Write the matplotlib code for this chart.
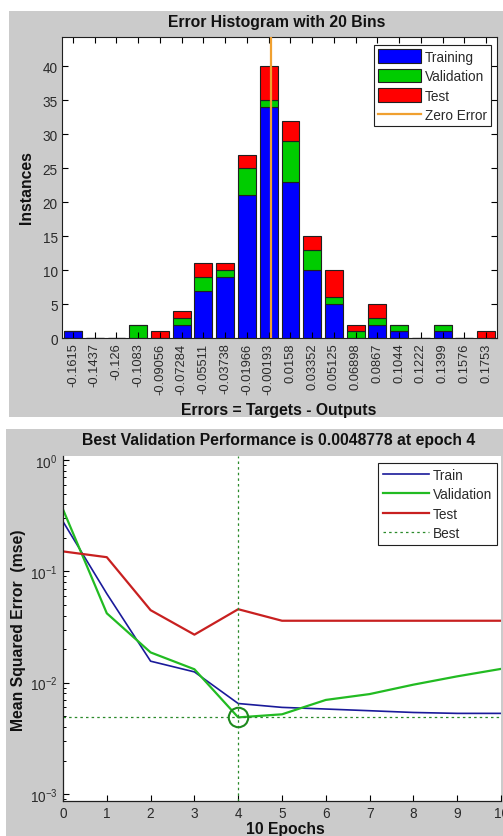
import matplotlib
matplotlib.use("Agg")
import matplotlib.pyplot as plt
import numpy as np
from matplotlib.patches import Rectangle

plt.rcParams['font.family'] = ['Liberation Sans', 'DejaVu Sans']

# ---------------- data ----------------
bin_labels = ["-0.1615", "-0.1437", "-0.126", "-0.1083", "-0.09056", "-0.07284",
              "-0.05511", "-0.03738", "-0.01966", "-0.00193", "0.0158", "0.03352",
              "0.05125", "0.06898", "0.0867", "0.1044", "0.1222", "0.1399",
              "0.1576", "0.1753"]
bin_centers = [float(s) for s in bin_labels]
training = [1, 0, 0, 0, 0, 2, 7, 9, 21, 34, 23, 10, 5, 0, 2, 1, 0, 1, 0, 0]
validation = [0, 0, 0, 2, 0, 1, 2, 1, 4, 1, 6, 3, 1, 1, 1, 1, 0, 1, 0, 0]
test = [0, 0, 0, 0, 1, 1, 2, 1, 2, 5, 3, 2, 4, 1, 2, 0, 0, 0, 0, 1]

epochs = [0, 1, 2, 3, 4, 5, 6, 7, 8, 9, 10]
train_perf = [0.28, 0.063, 0.0156, 0.0125, 0.0065, 0.0060, 0.0058, 0.0056, 0.0054, 0.0053, 0.0053]
val_perf = [0.36, 0.042, 0.0187, 0.0132, 0.0048778, 0.0052, 0.0070, 0.0079, 0.0096, 0.0114, 0.0133]
test_perf = [0.151, 0.134, 0.0448, 0.027, 0.0457, 0.036, 0.036, 0.036, 0.036, 0.036, 0.036]
best_epoch = 4
best_val = 0.0048778

# ---------------- figure ----------------
W, H = 503, 837
fig = plt.figure(figsize=(W / 100, H / 100), dpi=100)
fig.patch.set_facecolor('white')
gray = '#cbcbcb'

def px_rect(x0, y0, x1, y1):
    return [x0 / W, 1 - y1 / H, (x1 - x0) / W, (y1 - y0) / H]

# gray panels (background axes)
bg = fig.add_axes([0, 0, 1, 1], zorder=-10)
bg.set_xlim(0, W)
bg.set_ylim(H, 0)
bg.axis('off')
for (x0, y0, x1, y1) in [(9, 12, 503, 418), (6, 430, 503, 837)]:
    bg.add_patch(Rectangle((x0, y0), x1 - x0, y1 - y0, facecolor=gray, edgecolor='none'))

txt_col = '#2a2a2a'
xtick_fs = 9.3
ytick_fs = 9.8
leg_fs = 9.8
title_fs = 11.3

# ---------------- histogram ----------------
ax1 = fig.add_axes(px_rect(62, 38, 497, 339.3))
bw = (bin_centers[-1] - bin_centers[0]) / 19
x = np.array(bin_centers)
tr = np.array(training)
va = np.array(validation)
te = np.array(test)
h_tr = ax1.bar(x, tr, width=0.82 * bw, color='#0000ff', edgecolor='#202020', linewidth=0.8, label='Training')
h_va = ax1.bar(x, va, width=0.82 * bw, bottom=tr, color='#00cc00', edgecolor='#202020', linewidth=0.8, label='Validation')
h_te = ax1.bar(x, te, width=0.82 * bw, bottom=tr + va, color='#ff0000', edgecolor='#202020', linewidth=0.8, label='Test')
h_z, = ax1.plot([0, 0], [0, 44.3], color='#f0a030', linewidth=1.6, label='Zero Error', zorder=5)
ax1.set_xlim(bin_centers[0] - 0.5 * bw, bin_centers[-1] + 0.5 * bw)
ax1.set_ylim(0, 44.3)
ax1.set_xticks(bin_centers)
ax1.set_xticklabels(bin_labels, rotation=90, fontsize=xtick_fs, color=txt_col)
ax1.set_yticks(range(0, 41, 5))
ax1.set_yticklabels([str(v) for v in range(0, 41, 5)], fontsize=ytick_fs, color=txt_col)
ax1.tick_params(direction='in', top=True, right=True, length=4, width=0.8, pad=3)
for s in ax1.spines.values():
    s.set_linewidth(0.8)
    s.set_color('#202020')
leg1 = ax1.legend(handles=[h_tr, h_va, h_te, h_z], loc='upper right',
                  bbox_to_anchor=(0.986, 0.973), borderaxespad=0,
                  fontsize=leg_fs, frameon=True, fancybox=False, framealpha=1,
                  edgecolor='#202020', handlelength=3.2, handleheight=1.15,
                  labelspacing=0.38, handletextpad=0.25, borderpad=0.3)
leg1.get_frame().set_linewidth(0.8)
for t in leg1.get_texts():
    t.set_color(txt_col)

fig.text(277 / W, 1 - 22.7 / H, 'Error Histogram with 20 Bins', ha='center', va='center',
         fontsize=title_fs, fontweight='bold', color='#111111')
fig.text(279 / W, 1 - 410 / H, 'Errors = Targets - Outputs', ha='center', va='center',
         fontsize=title_fs, fontweight='bold', color='#111111')
fig.text(27 / W, 1 - 188 / H, 'Instances', ha='center', va='center', rotation=90,
         fontsize=title_fs, fontweight='bold', color='#111111')

# ---------------- performance ----------------
ax2 = fig.add_axes(px_rect(63, 457, 501, 801.7))
ax2.set_yscale('log')
ax2.plot(epochs, train_perf, color='#1a1a9a', linewidth=1.2, label='Train')
ax2.plot(epochs, val_perf, color='#22bb22', linewidth=1.6, label='Validation')
ax2.plot(epochs, test_perf, color='#c82020', linewidth=1.6, label='Test')
ax2.axvline(best_epoch, color='#2a8a2a', linestyle=(0, (2, 2.5)), linewidth=0.9, label='Best')
ax2.axhline(best_val, color='#2a8a2a', linestyle=(0, (2, 2.5)), linewidth=0.9)
ax2.plot([best_epoch], [best_val], marker='o', markersize=14, markerfacecolor='none',
         markeredgecolor='#1e8a1e', markeredgewidth=1.5, linestyle='none')
ax2.set_xlim(0, 10)
ax2.set_ylim(10 ** -3.06, 10 ** 0.036)
ax2.set_xticks(epochs)
ax2.set_xticklabels([str(e) for e in epochs], fontsize=ytick_fs, color=txt_col)
ax2.set_yticks([1e-3, 1e-2, 1e-1, 1e0])
ax2.set_yticklabels([r'$\mathregular{10^{-3}}$', r'$\mathregular{10^{-2}}$',
                     r'$\mathregular{10^{-1}}$', r'$\mathregular{10^{0}}$'],
                    fontsize=ytick_fs, color=txt_col)
ax2.tick_params(axis='both', which='major', direction='in', length=4, width=0.8, pad=4)
ax2.tick_params(axis='y', which='minor', direction='in', length=2.5, width=0.7)
ax2.spines['top'].set_visible(False)
ax2.spines['right'].set_visible(False)
for s in ('left', 'bottom'):
    ax2.spines[s].set_linewidth(0.9)
    ax2.spines[s].set_color('#202020')
leg2 = ax2.legend(loc='upper right', bbox_to_anchor=(0.990, 0.980), borderaxespad=0,
                  fontsize=leg_fs, frameon=True, fancybox=False, framealpha=1,
                  edgecolor='#202020', handlelength=3.4,
                  labelspacing=0.4, handletextpad=0.25, borderpad=0.35)
leg2.get_frame().set_linewidth(0.8)
for t in leg2.get_texts():
    t.set_color(txt_col)

fig.text(279 / W, 1 - 441 / H, 'Best Validation Performance is 0.0048778 at epoch 4',
         ha='center', va='center', fontsize=title_fs, fontweight='bold', color='#111111')
fig.text(285 / W, 1 - 830 / H, '10 Epochs', ha='center', va='center',
         fontsize=title_fs, fontweight='bold', color='#111111')
fig.text(19 / W, 1 - 630 / H, 'Mean Squared Error  (mse)', ha='center', va='center', rotation=90,
         fontsize=title_fs, fontweight='bold', color='#111111')

fig.savefig('out.png', dpi=100)
